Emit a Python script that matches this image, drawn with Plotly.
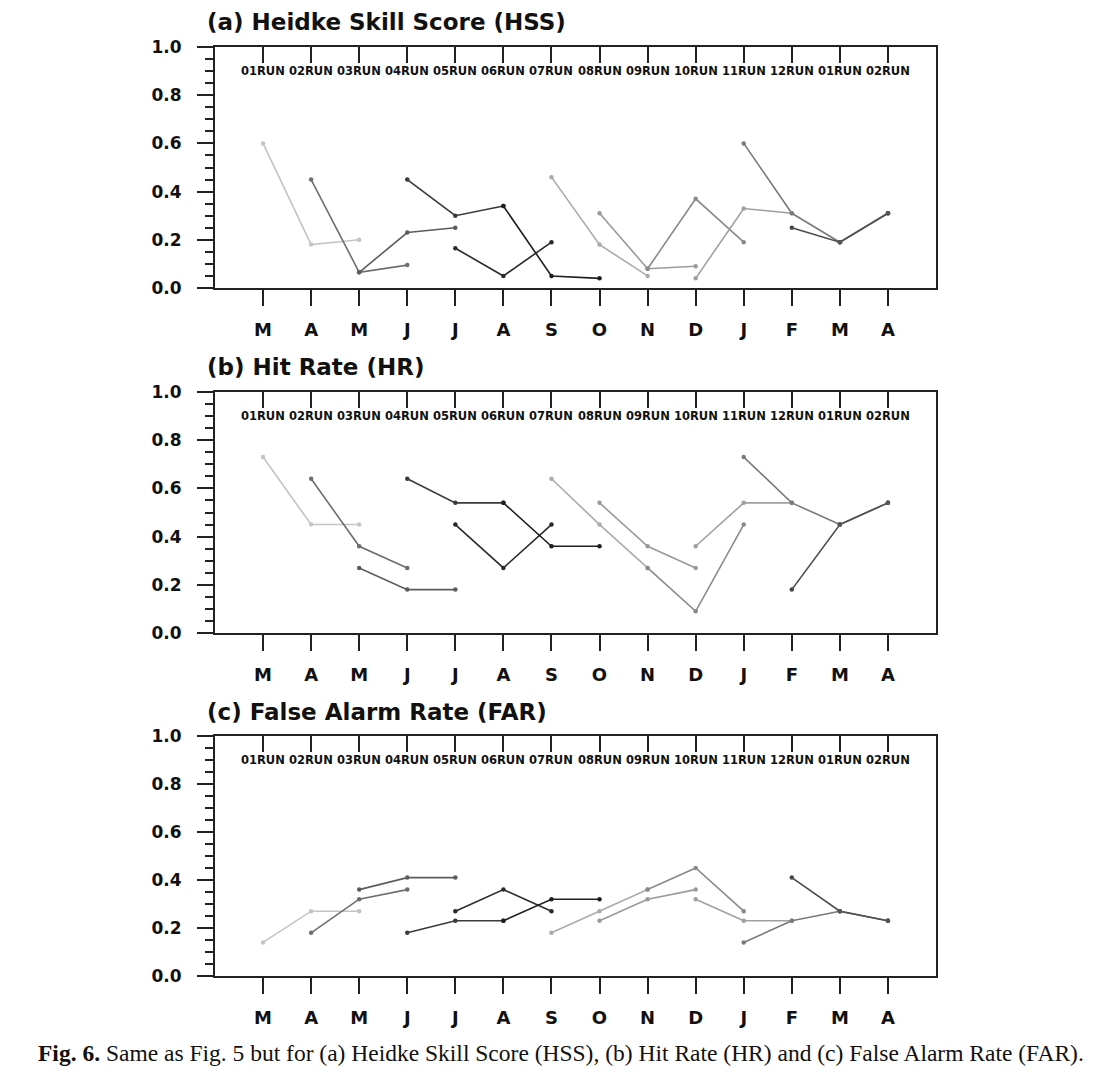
import plotly.graph_objects as go

# ---------------- data ----------------
months = ["M", "A", "M", "J", "J", "A", "S", "O", "N", "D", "J", "F", "M", "A"]
runs = ["01RUN", "02RUN", "03RUN", "04RUN", "05RUN", "06RUN", "07RUN",
        "08RUN", "09RUN", "10RUN", "11RUN", "12RUN", "01RUN", "02RUN"]

# each run: values at lead 1..3, starting at its own month
hss = [[0.60, 0.18, 0.20], [0.45, 0.065, 0.095], [0.065, 0.23, 0.25],
       [0.45, 0.30, 0.34], [0.165, 0.05, 0.19], [0.34, 0.05, 0.04],
       [0.46, 0.18, 0.05], [0.31, 0.08, 0.09], [0.08, 0.37, 0.19],
       [0.04, 0.33, 0.31], [0.60, 0.31, 0.19], [0.25, 0.19, 0.31],
       [0.19, 0.31], [0.31]]
hr = [[0.73, 0.45, 0.45], [0.64, 0.36, 0.27], [0.27, 0.18, 0.18],
      [0.64, 0.54, 0.54], [0.45, 0.27, 0.45], [0.54, 0.36, 0.36],
      [0.64, 0.45, 0.27], [0.54, 0.36, 0.27], [0.27, 0.09, 0.45],
      [0.36, 0.54, 0.54], [0.73, 0.54, 0.45], [0.18, 0.45, 0.54],
      [0.45, 0.54], [0.54]]
far = [[0.14, 0.27, 0.27], [0.18, 0.32, 0.36], [0.36, 0.41, 0.41],
       [0.18, 0.23, 0.23], [0.27, 0.36, 0.27], [0.23, 0.32, 0.32],
       [0.18, 0.27, 0.36], [0.23, 0.32, 0.36], [0.36, 0.45, 0.27],
       [0.32, 0.23, 0.23], [0.14, 0.23, 0.27], [0.41, 0.27, 0.23],
       [0.27, 0.23], [0.23]]

titles = ["(a) Heidke Skill Score (HSS)", "(b) Hit Rate (HR)", "(c) False Alarm Rate (FAR)"]
ytickvals = [0.0, 0.2, 0.4, 0.6, 0.8, 1.0]
yticktext = ["0.0", "0.2", "0.4", "0.6", "0.8", "1.0"]
caption = ("<b>Fig. 6.</b> Same as Fig. 5 but for (a) Heidke Skill Score (HSS), "
           "(b) Hit Rate (HR) and (c) False Alarm Rate (FAR).")

# ---------------- style ----------------
run_colors = ["#c4c4c4", "#6e6e6e", "#5c5c5c", "#3a3a3a", "#2a2a2a", "#1e1e1e",
              "#ababab", "#9a9a9a", "#8a8a8a", "#a0a0a0", "#7a7a7a", "#4a4a4a",
              "#555555", "#555555"]

OFF = 8  # page body margin
W, H = 1098 - OFF, 1079 - OFF
x0px, x1px = 215 - OFF, 936 - OFF
panels_px = [(47 - OFF, 288 - OFF), (392 - OFF, 633 - OFF), (736 - OFF, 976 - OFF)]
title_y_px = [22 - OFF, 367 - OFF, 712 - OFF]
title_x_px = 205 - OFF
cap_x_px, cap_y_px = 36 - OFF, 1053 - OFF
BOLD = "DejaVu Sans"

fig = go.Figure()
panels = [hss, hr, far]
for p, data in enumerate(panels):
    xa = "x" if p == 0 else f"x{p + 1}"
    ya = "y" if p == 0 else f"y{p + 1}"
    for i, vals in enumerate(data):
        xs = list(range(i, i + len(vals)))
        fig.add_trace(go.Scatter(
            x=xs, y=vals, mode="lines+markers", xaxis=xa, yaxis=ya,
            line=dict(color=run_colors[i], width=1.6),
            marker=dict(color=run_colors[i], size=4.5),
            showlegend=False, hoverinfo="skip"))

layout = dict(
    template="none",
    width=W, height=H, margin=dict(l=0, r=0, t=0, b=0, pad=0, autoexpand=False),
    paper_bgcolor="white", plot_bgcolor="white", showlegend=False,
)
annotations = []
idx = list(range(len(months)))
for p in range(3):
    top, bot = panels_px[p]
    dom_y = [1 - bot / H, 1 - top / H]
    dom_x = [x0px / W, x1px / W]
    xk = "xaxis" if p == 0 else f"xaxis{p + 1}"
    yk = "yaxis" if p == 0 else f"yaxis{p + 1}"
    yref = "y" if p == 0 else f"y{p + 1}"
    xref = "x" if p == 0 else f"x{p + 1}"
    layout[xk] = dict(
        domain=dom_x, range=[-1, 14], anchor=yref, automargin=False,
        tickvals=idx, ticktext=months, ticks="outside", ticklen=16,
        tickwidth=2, tickcolor="#222",
        tickfont=dict(family=BOLD, size=18, color="#111", weight="bold"),
        ticklabelstandoff=8,
        showline=True, linecolor="#222", linewidth=2, mirror=True,
        showgrid=False, zeroline=False, fixedrange=True)
    layout[yk] = dict(
        domain=dom_y, range=[0, 1], anchor=xref, automargin=False,
        tickvals=ytickvals, ticktext=yticktext, ticks="outside", ticklen=16,
        tickwidth=2, tickcolor="#222",
        tickfont=dict(family=BOLD, size=17, color="#111", weight="bold"),
        ticklabelstandoff=12,
        minor=dict(dtick=0.05, tick0=0, ticks="outside", ticklen=8,
                   tickwidth=1.5, tickcolor="#222", showgrid=False),
        showline=True, linecolor="#222", linewidth=2, mirror=True,
        showgrid=False, zeroline=False, fixedrange=True)
    # top axis with inward ticks at each month
    tk = f"xaxis{p + 4}"
    layout[tk] = dict(
        overlaying=xref, side="top", anchor=yref, range=[-1, 14],
        automargin=False,
        tickvals=idx, ticks="inside", ticklen=16, tickwidth=2,
        tickcolor="#222", showticklabels=False, showline=False,
        showgrid=False, zeroline=False, fixedrange=True)
    # run labels under the top ticks
    for i, r in enumerate(runs):
        annotations.append(dict(
            x=i, y=0.9, xref=xref, yref=yref, text=r, showarrow=False,
            xanchor="center", yanchor="middle",
            font=dict(family=BOLD, size=11.5, color="#111", weight="bold")))
    annotations.append(dict(
        x=title_x_px / W, y=1 - title_y_px[p] / H, xref="paper", yref="paper",
        text=titles[p], showarrow=False, xanchor="left", yanchor="middle",
        font=dict(family=BOLD, size=23, color="#111", weight="bold")))

annotations.append(dict(
    x=cap_x_px / W, y=1 - cap_y_px / H, xref="paper", yref="paper",
    text=caption, showarrow=False, xanchor="left", yanchor="middle",
    font=dict(family="Liberation Serif", size=23.5, color="#111")))

layout["annotations"] = annotations
fig.update_layout(**layout)

# empty traces so that the top tick axes render
for p in range(3):
    yref = "y" if p == 0 else f"y{p + 1}"
    fig.add_trace(go.Scatter(x=[None], y=[None], xaxis=f"x{p + 4}", yaxis=yref,
                             showlegend=False, hoverinfo="skip"))

fig.write_html("out.html")
